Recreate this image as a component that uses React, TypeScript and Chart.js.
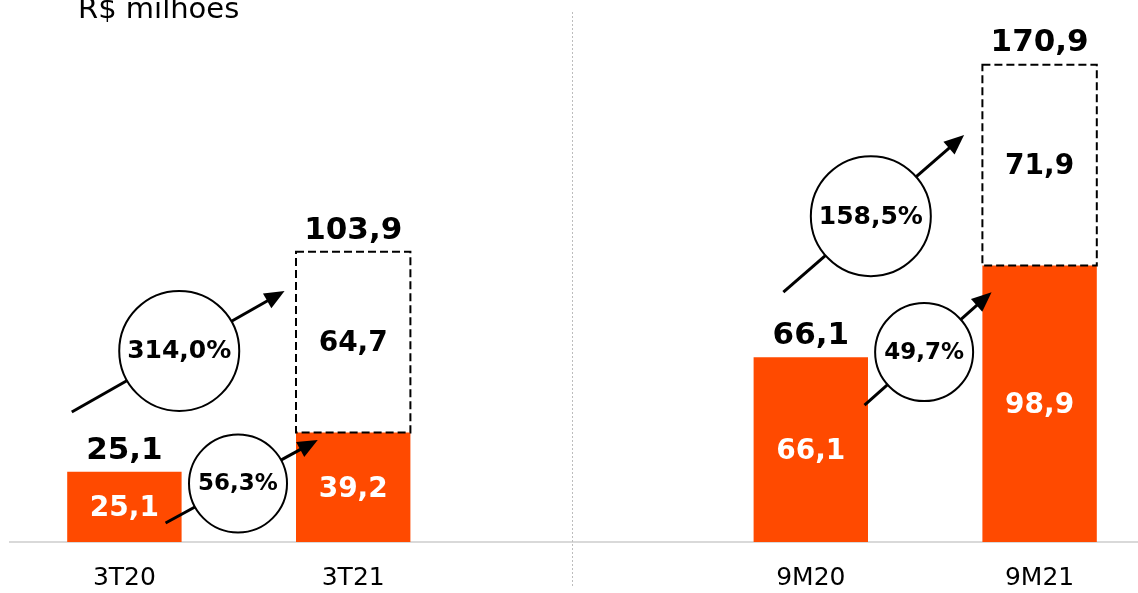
import React, { useEffect, useRef } from 'react';
import { Chart, registerables } from 'chart.js';

Chart.register(...registerables);

// ---- data ----
const categories = ['3T20', '3T21', '', '9M20', '9M21'];
const baseValues = [25.1, 39.2, null, 66.1, 98.9];
const extraValues = [null, 64.7, null, null, 71.9];
const totalValues = [25.1, 103.9, null, 66.1, 170.9];
const unitLabel = 'R$ milhões';

// growth annotations: arrows expressed in data units [category index, value]
const growthLabels = ['314,0%', '56,3%', '158,5%', '49,7%'];
const growthFrom = [
  [-0.23, 46.5],
  [0.18, 6.8],
  [2.88, 89.4],
  [3.235, 49.0],
];
const growthTo = [
  [0.7, 89.8],
  [0.845, 36.5],
  [3.67, 145.6],
  [3.79, 89.4],
];
// where along each arrow the circle sits (0 = start, 1 = tip)
const growthAt = [0.505, 0.476, 0.484, 0.469];
const yMax = 190;
const dividerAt = 1.955;

// ---- styles ----
const ORANGE = '#FF4A00';
const FONT = "'DejaVu Sans', Verdana, sans-serif";
const circleRadius = [60, 49, 60, 49];
const circleFont = [25, 23, 25, 23];

const fmt = (v: number) => v.toFixed(1).replace('.', ',');

const annotationPlugin = {
  id: 'annotations',
  afterDatasetsDraw(chart: any) {
    const { ctx, chartArea } = chart;
    const xs = chart.scales.x;
    const ys = chart.scales.y;
    const baseMeta = chart.getDatasetMeta(0);
    const extraMeta = chart.getDatasetMeta(1);

    ctx.save();

    // divider
    ctx.strokeStyle = '#bdbdbd';
    ctx.lineWidth = 1;
    ctx.setLineDash([2, 2]);
    const dx = Math.round(xs.getPixelForValue(dividerAt)) + 0.5;
    ctx.beginPath();
    ctx.moveTo(dx, chartArea.top + 1);
    ctx.lineTo(dx, chartArea.bottom + 46);
    ctx.stroke();

    // dashed border of extra segment
    ctx.setLineDash([8, 4]);
    ctx.strokeStyle = '#000';
    ctx.lineWidth = 2;
    extraMeta.data.forEach((el: any, i: number) => {
      if (extraValues[i] == null) return;
      const { x, y, base, width } = el.getProps(['x', 'y', 'base', 'width'], true);
      ctx.strokeRect(x - width / 2, y, width, base - y);
    });
    ctx.setLineDash([]);

    // inside labels
    ctx.textAlign = 'center';
    ctx.textBaseline = 'middle';
    ctx.font = `bold 28px ${FONT}`;
    baseMeta.data.forEach((el: any, i: number) => {
      const v = baseValues[i];
      if (v == null) return;
      const { x, y, base } = el.getProps(['x', 'y', 'base'], true);
      ctx.fillStyle = '#fff';
      ctx.fillText(fmt(v), x, (y + base) / 2 + 2);
    });
    extraMeta.data.forEach((el: any, i: number) => {
      const v = extraValues[i];
      if (v == null) return;
      const { x, y, base } = el.getProps(['x', 'y', 'base'], true);
      ctx.fillStyle = '#000';
      ctx.fillText(fmt(v), x, (y + base) / 2 + 2);
    });

    // totals
    ctx.font = `bold 31px ${FONT}`;
    ctx.textBaseline = 'alphabetic';
    ctx.fillStyle = '#000';
    totalValues.forEach((v, i) => {
      if (v == null) return;
      ctx.fillText(fmt(v), xs.getPixelForValue(i), ys.getPixelForValue(v) - 13);
    });

    // growth arrows and circles
    growthLabels.forEach((label, i) => {
      const x1 = xs.getPixelForValue(growthFrom[i][0]);
      const y1 = ys.getPixelForValue(growthFrom[i][1]);
      const x2 = xs.getPixelForValue(growthTo[i][0]);
      const y2 = ys.getPixelForValue(growthTo[i][1]);
      const ang = Math.atan2(y2 - y1, x2 - x1);
      const headLen = 20;
      const headHalf = 8.5;
      ctx.strokeStyle = '#000';
      ctx.fillStyle = '#000';
      ctx.lineWidth = 3;
      ctx.beginPath();
      ctx.moveTo(x1, y1);
      ctx.lineTo(x2 - Math.cos(ang) * (headLen - 2), y2 - Math.sin(ang) * (headLen - 2));
      ctx.stroke();
      ctx.beginPath();
      ctx.moveTo(x2, y2);
      ctx.lineTo(
        x2 - Math.cos(ang) * headLen - Math.sin(ang) * headHalf,
        y2 - Math.sin(ang) * headLen + Math.cos(ang) * headHalf
      );
      ctx.lineTo(
        x2 - Math.cos(ang) * headLen + Math.sin(ang) * headHalf,
        y2 - Math.sin(ang) * headLen - Math.cos(ang) * headHalf
      );
      ctx.closePath();
      ctx.fill();

      const t = growthAt[i];
      const cx = x1 + (x2 - x1) * t;
      const cy = y1 + (y2 - y1) * t;
      ctx.beginPath();
      ctx.arc(cx, cy, circleRadius[i], 0, Math.PI * 2);
      ctx.fillStyle = '#fff';
      ctx.fill();
      ctx.lineWidth = 2;
      ctx.strokeStyle = '#000';
      ctx.stroke();
      ctx.fillStyle = '#000';
      ctx.font = `bold ${circleFont[i]}px ${FONT}`;
      ctx.textAlign = 'center';
      ctx.textBaseline = 'middle';
      ctx.fillText(label, cx, cy + 1);
    });

    // unit label
    ctx.font = `29px ${FONT}`;
    ctx.textAlign = 'left';
    ctx.textBaseline = 'alphabetic';
    ctx.fillStyle = '#000';
    ctx.fillText(unitLabel, 78, 18);

    ctx.restore();
  },
};

export default function App() {
  const ref = useRef<HTMLCanvasElement | null>(null);

  useEffect(() => {
    document.body.style.margin = '0';
    if (!ref.current) return;
    const chart = new Chart(ref.current, {
      type: 'bar',
      data: {
        labels: categories,
        datasets: [
          {
            data: baseValues as any,
            backgroundColor: ORANGE,
            borderWidth: 0,
            categoryPercentage: 1,
            barPercentage: 0.5,
          },
          {
            data: extraValues as any,
            backgroundColor: '#ffffff',
            borderWidth: 0,
            categoryPercentage: 1,
            barPercentage: 0.5,
          },
        ],
      },
      options: {
        responsive: false,
        animation: false,
        devicePixelRatio: 1,
        layout: { padding: { left: 10, right: 6, top: 11, bottom: 3 } },
        plugins: {
          legend: { display: false },
          tooltip: { enabled: false },
          title: { display: false },
        },
        scales: {
          x: {
            stacked: true,
            grid: { display: false, drawTicks: false },
            border: { display: true, color: '#d9d9d9', width: 2 },
            ticks: {
              color: '#000',
              padding: 21,
              font: { family: FONT, size: 25 },
            },
          },
          y: {
            stacked: true,
            display: false,
            min: 0,
            max: yMax,
          },
        },
      },
      plugins: [annotationPlugin],
    });
    return () => chart.destroy();
  }, []);

  return (
    <div style={{ width: 1138, height: 593, overflow: 'hidden', position: 'relative' }}>
      <canvas ref={ref} width={1160} height={617} style={{ display: 'block' }} />
    </div>
  );
}
